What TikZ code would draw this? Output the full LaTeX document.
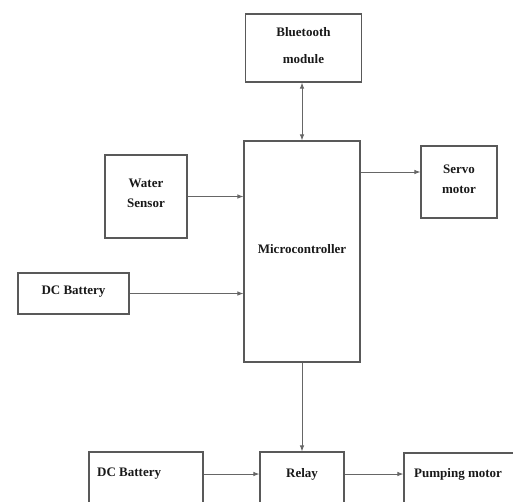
\documentclass[tikz,border=0pt]{standalone}
\usepackage{fontspec}
\setmainfont{Liberation Serif}
\usetikzlibrary{arrows.meta}
\begin{document}
\begin{tikzpicture}[x=1pt,y=-1pt,
  box/.style={draw=black!65, line width=1.1pt, inner sep=0pt},
  lbl/.style={font=\fontsize{13}{20}\selectfont\bfseries, text=black!90, align=center, inner sep=0pt},
  conn/.style={draw=black!60, line width=0.9pt, -{Latex[length=6pt,width=4.5pt]}},
  bconn/.style={draw=black!60, line width=0.9pt, {Latex[length=6pt,width=4.5pt]}-{Latex[length=6pt,width=4.5pt]}}]
\useasboundingbox (0,0) rectangle (513,501);
\clip (0,0) rectangle (513,501);
% boxes
\node[box, minimum width=116pt, minimum height=68pt] (bt) at (303.5,48) {};
\node[lbl] (btt) at (303.5,32) {Bluetooth};
\node[lbl] (btm) at (303.5,59) {module};
\node[box, minimum width=116pt, minimum height=221pt] (mc) at (302,251.5) {};
\node[lbl] (mct) at (302,249) {Microcontroller};
\node[box, minimum width=82pt, minimum height=83pt] (ws) at (146,196.5) {};
\node[lbl] (wst) at (146,193) {Water\\Sensor};
\node[box, minimum width=76pt, minimum height=72pt] (sv) at (459,182) {};
\node[lbl] (svt) at (459,179) {Servo\\motor};
\node[box, minimum width=111pt, minimum height=41pt] (db) at (73.5,293.5) {};
\node[lbl] (dbt) at (73.5,292) {DC Battery};
\node[box, minimum width=114pt, minimum height=80pt] (db2) at (146,492) {};
\node[lbl, anchor=west] (db2t) at (97,474) {DC Battery};
\node[box, minimum width=84pt, minimum height=80pt] (rl) at (302,492) {};
\node[lbl] (rlt) at (302,474) {Relay};
\node[box, minimum width=130pt, minimum height=80pt] (pm) at (469,493) {};
\node[lbl, anchor=west] (pmt) at (414,474) {Pumping motor};
\coordinate (svin) at (sv.west |- 0,172);
% connectors
\draw[bconn] (bt.south -| mc.south) -- (mc.north);
\draw[conn] (ws.east) -- (ws.east -| mc.west);
\draw[conn] (db.east) -- (db.east -| mc.west);
\draw[conn] (mc.east |- svin) -- (svin);
\draw[conn] (mc.south) -- (rl.north);
\draw[conn] (db2t -| db2.east) -- (db2t -| rl.west);
\draw[conn] (rlt -| rl.east) -- (rlt -| pm.west);
\end{tikzpicture}
\end{document}
